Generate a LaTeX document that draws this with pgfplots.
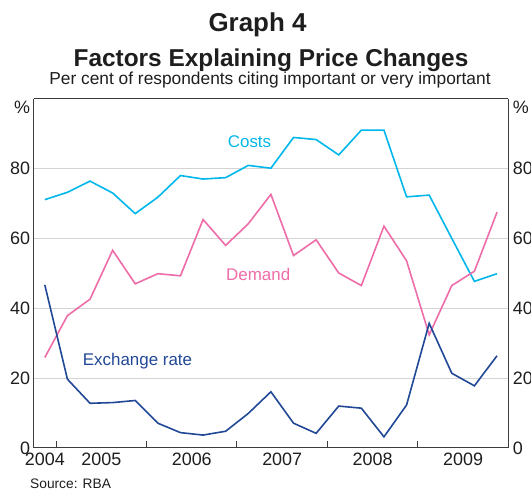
\documentclass[border=0pt]{standalone}
\usepackage{pgfplots}
\pgfplotsset{compat=1.18}
\usepackage{fontspec}
\setmainfont{Liberation Sans}
\definecolor{costc}{RGB}{0,183,235}
\definecolor{demc}{RGB}{238,108,168}
\definecolor{exc}{RGB}{33,72,150}
\definecolor{gridc}{RGB}{212,212,212}
\definecolor{axc}{RGB}{60,60,60}
\definecolor{txt}{RGB}{30,30,30}
\pgfplotstableread{
x costs demand exch
2004.875 71.1 25.9 46.7
2005.125 73.2 37.9 19.7
2005.375 76.4 42.6 12.8
2005.625 73.0 56.6 13.0
2005.875 67.1 47.0 13.6
2006.125 71.8 49.9 7.1
2006.375 78.0 49.3 4.4
2006.625 77.0 65.4 3.7
2006.875 77.4 58.0 4.8
2007.125 80.9 64.2 9.9
2007.375 80.1 72.6 16.1
2007.625 88.9 55.1 7.1
2007.875 88.3 59.6 4.2
2008.125 83.9 50.1 12.0
2008.375 91.0 46.5 11.4
2008.625 91.0 63.5 3.2
2008.875 71.9 53.6 12.3
2009.125 72.4 32.4 35.7
2009.375 60.0 46.5 21.4
2009.625 47.7 50.6 17.8
2009.875 49.9 67.5 26.4
}\datatable
\begin{document}
\begin{tikzpicture}[x=1bp,y=1bp]
\path[use as bounding box] (-33.5,-43) rectangle (497.5,448);
\pgfplotsset{
  common/.style={
    scale only axis, width=474.8bp, height=349.3bp,
    xmin=2004.75, xmax=2010, ymin=0, ymax=100,
    ytick={0,20,40,60,80},
    extra y ticks={97.6}, extra y tick labels={\%},
    extra y tick style={grid=none},
    /pgf/number format/assume math mode=true,
    ticklabel style={font=\fontsize{18}{20}\selectfont, text=txt},
    axis line style={axc, line width=1bp},
    y tick style={draw=none},
  }
}
\begin{axis}[common,
  axis x line*=bottom, axis y line*=left,
  ymajorgrids, grid style={gridc, line width=1bp},
  xtick={2005,2006,2007,2008,2009}, xticklabels={},
  x tick style={axc, line width=1bp},
  major tick length=7bp,
  xtick align=inside,
  extra x ticks={2004.875,2005.5,2006.5,2007.5,2008.5,2009.5},
  extra x tick labels={2004,2005,2006,2007,2008,2009},
  extra x tick style={x tick style={draw=none}, xticklabel style={yshift=-1bp}},
  clip=false,
]
\addplot[costc, line width=1.6bp] table[x=x,y=costs] {\datatable};
\addplot[demc, line width=1.6bp] table[x=x,y=demand] {\datatable};
\addplot[exc, line width=1.6bp] table[x=x,y=exch] {\datatable};
\end{axis}
\begin{axis}[common,
  axis x line*=top, axis y line*=right,
  xtick=\empty,
  yticklabel style={xshift=1bp},
]
\end{axis}
\draw[axc, line width=1bp] (0,349.3) -- (474.8,349.3);
\node[anchor=base, inner sep=0, text=txt, font=\fontsize{26}{28}\selectfont\bfseries] at (224,416.3) {Graph 4};
\node[anchor=base, inner sep=0, text=txt, font=\fontsize{24.5}{26}\selectfont\bfseries] at (237.5,381) {Factors Explaining Price Changes};
\node[anchor=base, inner sep=0, text=txt, font=\fontsize{17.4}{19}\selectfont] at (236.5,363) {Per cent of respondents citing important or very important};
\node[anchor=base, inner sep=0, text=costc, font=\fontsize{17}{19}\selectfont] at (216,300.7) {Costs};
\node[anchor=base west, inner sep=0, text=demc, font=\fontsize{17}{19}\selectfont] at (192.5,167) {Demand};
\node[anchor=base west, inner sep=0, text=exc, font=\fontsize{17}{19}\selectfont] at (49.2,82) {Exchange rate};
\node[anchor=base west, inner sep=0, text=txt, font=\fontsize{13.8}{15}\selectfont] at (-3.5,-40.5) {Source: RBA};
\end{tikzpicture}
\end{document}
